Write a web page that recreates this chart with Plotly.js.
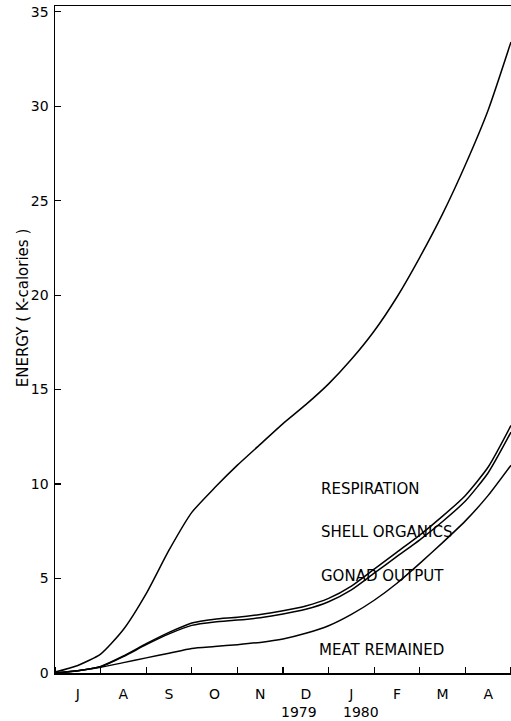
<!DOCTYPE html>
<html>
<head>
<meta charset="utf-8">
<script src="https://cdn.plot.ly/plotly-3.0.1.min.js"></script>
<style>html,body{margin:0;padding:0;background:#fff;}#chart{width:511px;height:721px;}</style>
</head>
<body>
<div id="chart"></div>
<script>
// months elapsed since 1 July 1979
var monthPos = [0, 0.5, 1, 1.5, 2, 2.5, 3, 3.5, 4, 4.5, 5, 5.5, 6, 6.5, 7, 7.5, 8, 8.5, 9, 9.5, 10];
var respiration = [0.05, 0.4, 1.0, 2.3, 4.2, 6.5, 8.5, 9.8, 11.0, 12.1, 13.2, 14.2, 15.3, 16.6, 18.1, 19.9, 22.0, 24.3, 26.9, 29.8, 33.4];
var shellOrganics = [0, 0.12, 0.35, 0.9, 1.55, 2.15, 2.65, 2.85, 2.95, 3.1, 3.3, 3.55, 3.95, 4.6, 5.5, 6.4, 7.3, 8.3, 9.4, 10.9, 13.1];
var gonadOutput = [0, 0.12, 0.33, 0.87, 1.5, 2.07, 2.52, 2.7, 2.8, 2.93, 3.12, 3.37, 3.77, 4.4, 5.28, 6.17, 7.05, 8.02, 9.1, 10.6, 12.75];
var meatRemained = [0, 0.12, 0.3, 0.55, 0.8, 1.05, 1.3, 1.4, 1.5, 1.62, 1.8, 2.1, 2.5, 3.1, 3.85, 4.75, 5.8, 6.9, 8.05, 9.4, 11.0];
var monthLabels = ['J', 'A', 'S', 'O', 'N', 'D', 'J', 'F', 'M', 'A'];
var monthCenters = [0.5, 1.5, 2.5, 3.5, 4.5, 5.5, 6.5, 7.5, 8.5, 9.5];
var yTicks = [0, 5, 10, 15, 20, 25, 30, 35];
var seriesLabels = ['RESPIRATION', 'SHELL ORGANICS', 'GONAD OUTPUT', 'MEAT REMAINED'];
var labelX = [5.79, 5.79, 5.79, 5.75];
var labelY = [9.76, 7.45, 5.14, 1.2];
var yearLabels = ['1979', '1980'];
var yearX = [5.36, 6.7];

var font = 'DejaVu Sans, Liberation Sans, Arial, sans-serif';
function line(y, name) {
  return {x: monthPos, y: y, name: name, mode: 'lines', type: 'scatter',
    line: {color: '#000', width: 1.5, shape: 'spline', smoothing: 0.6},
    hoverinfo: 'skip', showlegend: false};
}
var data = [
  line(respiration, 'RESPIRATION'),
  line(shellOrganics, 'SHELL ORGANICS'),
  line(gonadOutput, 'GONAD OUTPUT'),
  line(meatRemained, 'MEAT REMAINED')
];
var annotations = [];
for (var i = 0; i < seriesLabels.length; i++) {
  annotations.push({x: labelX[i], y: labelY[i], xref: 'x', yref: 'y', text: seriesLabels[i],
    showarrow: false, xanchor: 'left', yanchor: 'middle', font: {family: font, size: 15, color: '#000'}});
}
for (var j = 0; j < yearLabels.length; j++) {
  annotations.push({x: yearX[j], y: -0.0585, xref: 'x', yref: 'paper', text: yearLabels[j],
    showarrow: false, xanchor: 'center', yanchor: 'middle', font: {family: font, size: 14, color: '#000'}});
}
annotations.push({x: -0.07, y: 0.547, xref: 'paper', yref: 'paper', text: 'ENERGY ( K-calories )',
  textangle: -90, showarrow: false, xanchor: 'center', yanchor: 'middle',
  font: {family: font, size: 15, color: '#000'}});

var layout = {
  width: 511, height: 721,
  margin: {l: 55, r: 0, t: 6, b: 48, pad: 0},
  paper_bgcolor: '#fff', plot_bgcolor: '#fff',
  showlegend: false,
  font: {family: font, size: 14, color: '#000'},
  xaxis: {
    range: [0, 10], showgrid: false, zeroline: false,
    showline: true, linecolor: '#000', linewidth: 1.5, mirror: true,
    tickmode: 'array', tickvals: monthCenters, ticktext: monthLabels, ticks: '',
    ticklabelstandoff: 8,
    minor: {tickmode: 'linear', tick0: 0, dtick: 1, ticks: 'inside', ticklen: 6, tickwidth: 1.2, tickcolor: '#000', showgrid: false},
    tickfont: {family: font, size: 14, color: '#000'}
  },
  yaxis: {
    range: [0, 35.3], showgrid: false, zeroline: false,
    showline: true, linecolor: '#000', linewidth: 1.5,
    tickmode: 'array', tickvals: yTicks, ticks: 'inside', ticklen: 6, tickwidth: 1.2, tickcolor: '#000',
    ticklabelstandoff: 2, ticklabeloverflow: 'allow',
    tickfont: {family: font, size: 14, color: '#000'}
  },
  annotations: annotations
};
Plotly.newPlot('chart', data, layout, {staticPlot: true, displayModeBar: false});
</script>
</body>
</html>
